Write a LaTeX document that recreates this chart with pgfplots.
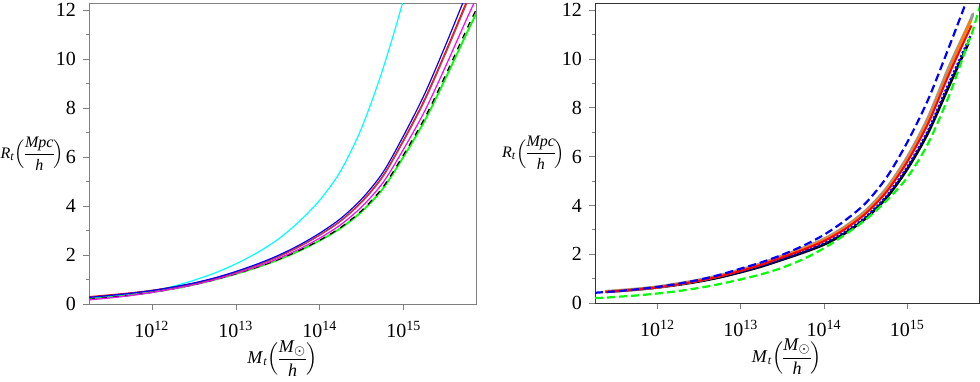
\documentclass[border=0pt]{standalone}
\usepackage{amsmath}
\usepackage{fontspec}
\setmainfont{Liberation Serif}
\usepackage{pgfplots}
\usepackage{pgfplotstable}
\pgfplotsset{compat=1.18}

\definecolor{mcyan}{RGB}{0,255,255}
\definecolor{mmag}{RGB}{255,0,255}
\definecolor{mgreen}{RGB}{0,255,0}
\definecolor{mbrown}{RGB}{180,70,80}

% left panel: M, then one column per curve
\pgfplotstableread{
M        cyan  blue  brown red   mag   blk   grn
1.778e11 0.22  0.27  0.27  0.30  0.17  0.19  0.19
3.162e11 0.31  0.35  0.35  0.375 0.25  0.27  0.27
5.623e11 0.42  0.44  0.436 0.458 0.35  0.36  0.36
1e12     0.54  0.55  0.545 0.561 0.473 0.479 0.479
1.778e12 0.72  0.69  0.68  0.69  0.62  0.62  0.62
3.162e12 0.97  0.86  0.843 0.851 0.791 0.791 0.791
5.623e12 1.27  1.07  1.049 1.054 1.0   0.995 0.995
1e13     1.64  1.33  1.297 1.303 1.25  1.237 1.23
1.778e13 2.09  1.63  1.585 1.592 1.529 1.503 1.495
3.162e13 2.64  1.98  1.921 1.931 1.851 1.812 1.802
5.623e13 3.36  2.40  2.328 2.34  2.238 2.178 2.166
1e14     4.25  2.90  2.813 2.828 2.697 2.61  2.596
1.778e14 5.45  3.50  3.39  3.41  3.246 3.133 3.107
3.162e14 7.22  4.30  4.158 4.193 3.978 3.827 3.784
5.623e14 9.60  5.37  5.193 5.236 4.954 4.77  4.712
1e15     12.5  6.90  6.672 6.728 6.348 6.12  6.038
1.778e15 16.0  8.60  8.316 8.385 7.895 7.611 7.499
3.162e15 nan   10.6  10.25 10.335 9.731 9.381 9.243
5.623e15 nan   12.7  12.28 12.38 11.66 11.24 11.07
7.499e15 nan   13.7  13.25 13.36 12.58 12.12 11.95
}\lefttab

% right panel
\pgfplotstableread{
M        bdash gdash gray  orng  red   bsol  blk
1.778e11 0.42  0.20  nan   nan   nan   nan   nan
2.371e11 0.45  0.22  0.47  0.463 0.456 0.46  0.455
3.162e11 0.48  0.25  0.50  0.493 0.485 0.49  0.485
5.623e11 0.56  0.31  0.57  0.561 0.553 0.555 0.55
1e12     0.66  0.39  0.66  0.650 0.640 0.64  0.635
1.778e12 0.79  0.49  0.79  0.778 0.766 0.76  0.75
3.162e12 0.95  0.62  0.94  0.926 0.912 0.90  0.885
5.623e12 1.16  0.78  1.13  1.113 1.096 1.075 1.055
1e13     1.41  0.97  1.36  1.34  1.319 1.285 1.265
1.778e13 1.67  1.18  1.62  1.596 1.571 1.525 1.50
3.162e13 1.98  1.45  1.93  1.901 1.872 1.81  1.78
5.623e13 2.35  1.80  2.25  2.216 2.183 2.11  2.07
1e14     2.80  2.25  2.62  2.581 2.541 2.45  2.40
1.778e14 3.38  2.80  3.12  3.073 3.026 2.92  2.86
3.162e14 4.10  3.42  3.78  3.723 3.667 3.53  3.47
5.623e14 5.15  4.20  4.70  4.63  4.559 4.39  4.32
1e15     6.60  5.15  5.98  5.89  5.80  5.59  5.50
1.778e15 8.35  6.55  7.60  7.49  7.37  7.10  6.99
3.162e15 10.5  8.50  9.67  9.52  9.38  9.04  8.90
4.898e15 12.2  10.3  nan   nan   nan   nan   nan
5.370e15 nan   10.7  nan   nan   nan   nan   10.63
5.754e15 nan   10.9  11.6  11.6  nan   10.97 nan
5.888e15 nan   11.0  11.79 nan   11.38 nan   nan
7.499e15 nan   12.2  nan   nan   nan   nan   nan
}\righttab

\newcommand{\Rlabel}{\textit{R}\textsubscript{\textit{t}}$\nulldelimiterspace=0pt\Bigl(\dfrac{\textit{Mpc}}{\textit{h}}\Bigr)$}
\newcommand{\Mlabel}{\textit{M}\textsubscript{\textit{t}}$\nulldelimiterspace=0pt\Bigl(\dfrac{\textit{M}_{\odot}}{\textit{h}}\Bigr)$}

\begin{document}
\begin{tikzpicture}
\useasboundingbox (0pt,0pt) rectangle (490pt,-190.5pt);

\begin{axis}[at={(44.5pt,-1.5pt)}, anchor=north west,
    scale only axis, width=193.5pt, height=150.5pt,
    xmode=log, log basis x=10,
    xmin=1.778e11, xmax=7.24e15, ymin=0, ymax=12.3,
    xtick={1e12,1e13,1e14,1e15},
    xticklabels={10\textsuperscript{12},10\textsuperscript{13},10\textsuperscript{14},10\textsuperscript{15}},
    ytick={0,2,...,12}, minor y tick num=1,
    tick pos=left, tick align=outside,
    major tick length=3pt, minor tick length=1.5pt,
    every tick/.style={gray},
    y tick label style={/pgf/number format/assume math mode=true},
    x tick label style={yshift=-2pt},
    xlabel={\Mlabel},
    ylabel={\Rlabel},
    xlabel style={font=\small, at={(axis description cs:0.5,-0.18)}, anchor=center},
    ylabel style={font=\footnotesize, at={(axis description cs:-0.147,0.5)}, rotate=-90, anchor=center},
    unbounded coords=discard,
    axis line style={gray}]
\addplot[mcyan, line width=0.6pt, smooth] table[x=M, y=cyan] {\lefttab};
\addplot[mgreen, line width=0.9pt, smooth] table[x=M, y=grn] {\lefttab};
\addplot[black, line width=0.6pt, dashed, smooth] table[x=M, y=blk] {\lefttab};
\addplot[mmag, line width=0.6pt, smooth] table[x=M, y=mag] {\lefttab};
\addplot[red, line width=0.6pt, smooth] table[x=M, y=red] {\lefttab};
\addplot[mbrown, line width=0.6pt, smooth] table[x=M, y=brown] {\lefttab};
\addplot[blue, line width=0.6pt, smooth] table[x=M, y=blue] {\lefttab};
\end{axis}

\begin{axis}[at={(297.5pt,-1.5pt)}, anchor=north west,
    scale only axis, width=192pt, height=150pt,
    xmode=log, log basis x=10,
    xmin=1.778e11, xmax=7.24e15, ymin=0, ymax=12.3,
    xtick={1e12,1e13,1e14,1e15},
    xticklabels={10\textsuperscript{12},10\textsuperscript{13},10\textsuperscript{14},10\textsuperscript{15}},
    ytick={0,2,...,12}, minor y tick num=1,
    tick pos=left, tick align=outside,
    major tick length=3pt, minor tick length=1.5pt,
    every tick/.style={gray},
    y tick label style={/pgf/number format/assume math mode=true},
    x tick label style={yshift=-2pt},
    xlabel={\Mlabel},
    ylabel={\Rlabel},
    xlabel style={font=\small, at={(axis description cs:0.5,-0.18)}, anchor=center},
    ylabel style={font=\footnotesize, at={(axis description cs:-0.16,0.5)}, rotate=-90, anchor=center},
    unbounded coords=discard,
    axis line style={black!80}]
\addplot[black, line width=1.3pt, smooth] table[x=M, y=blk] {\righttab};
\addplot[blue, line width=1.1pt, densely dotted, smooth] table[x=M, y=bsol] {\righttab};
\addplot[gray!80, line width=1.6pt, smooth] table[x=M, y=gray] {\righttab};
\addplot[orange, line width=1.3pt, smooth] table[x=M, y=orng] {\righttab};
\addplot[red, line width=1pt, smooth] table[x=M, y=red] {\righttab};
\addplot[blue, line width=1.1pt, dash pattern=on 4pt off 2pt, smooth] table[x=M, y=bdash] {\righttab};
\addplot[mgreen, line width=1.1pt, dash pattern=on 4pt off 2pt, smooth] table[x=M, y=gdash] {\righttab};
\end{axis}
\end{tikzpicture}
\end{document}
